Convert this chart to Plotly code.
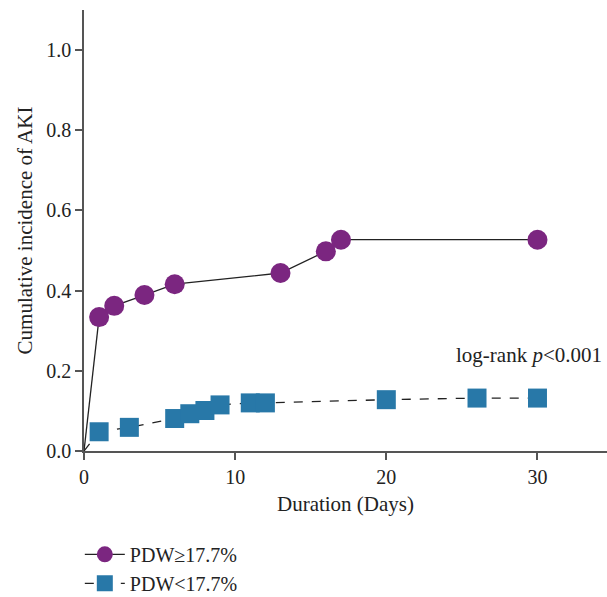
import plotly.graph_objects as go

# Data
high_days = [1, 2, 4, 6, 13, 16, 17, 30]
high_inc = [0.334, 0.362, 0.389, 0.416, 0.444, 0.498, 0.527, 0.527]
low_days = [1, 3, 6, 7, 8, 9, 11, 12, 20, 26, 30]
low_inc = [0.048, 0.059, 0.081, 0.093, 0.101, 0.115, 0.120, 0.120, 0.128, 0.132, 0.132]
origin = [0, 0.0]
x_ticks = [0, 10, 20, 30]
y_ticks = [0.0, 0.2, 0.4, 0.6, 0.8, 1.0]

PURPLE = "#7B2680"
BLUE = "#2878A8"
FONT = "Liberation Serif"
TXT = "#222"

fig = go.Figure()

# segments from origin
fig.add_trace(go.Scatter(x=[origin[0], high_days[0]], y=[origin[1], high_inc[0]],
                         mode="lines", line=dict(color="#222", width=1.3),
                         showlegend=False, hoverinfo="skip"))
fig.add_trace(go.Scatter(x=[origin[0], low_days[0]], y=[origin[1], low_inc[0]],
                         mode="lines", line=dict(color="#222", width=1.3, dash="dash"),
                         showlegend=False, hoverinfo="skip"))

fig.add_trace(go.Scatter(x=high_days, y=high_inc, mode="lines+markers",
                         name="PDW≥17.7%",
                         line=dict(color="#222", width=1.3),
                         marker=dict(symbol="circle", size=20, color=PURPLE)))
fig.add_trace(go.Scatter(x=low_days, y=low_inc, mode="lines+markers",
                         name="PDW<17.7%",
                         line=dict(color="#222", width=1.3, dash="dash"),
                         marker=dict(symbol="square", size=19, color=BLUE)))

fig.add_annotation(xref="paper", yref="y", x=0.995, y=0.24, xanchor="right", yanchor="middle",
                   text="log-rank <i>p</i><0.001", showarrow=False,
                   font=dict(family=FONT, size=21, color=TXT))

axis_common = dict(showline=True, linecolor="#555", linewidth=1.5, ticks="outside",
                   ticklen=7, tickcolor="#555", tickwidth=1.5, showgrid=False, zeroline=False,
                   tickfont=dict(family=FONT, size=20, color=TXT))

fig.update_layout(
    width=607, height=597,
    margin=dict(l=84, r=0, t=10, b=146, autoexpand=False),
    plot_bgcolor="white", paper_bgcolor="white",
    font=dict(family=FONT, size=20, color=TXT),
    xaxis=dict(range=[0, 34.6], tickvals=x_ticks, automargin=False,
               title=dict(text="Duration (Days)", font=dict(family=FONT, size=21, color=TXT), standoff=10),
               **axis_common),
    yaxis=dict(range=[0, 1.1], tickvals=y_ticks, tickformat=".1f", automargin=False,
               title=dict(text="Cumulative incidence of AKI", font=dict(family=FONT, size=21, color=TXT), standoff=8),
               **axis_common),
    legend=dict(x=-0.008, y=-0.19, xanchor="left", yanchor="top",
                font=dict(family=FONT, size=20, color=TXT),
                bgcolor="rgba(0,0,0,0)", tracegroupgap=0, itemwidth=40),
    showlegend=True,
)

fig.write_html("out.html")
